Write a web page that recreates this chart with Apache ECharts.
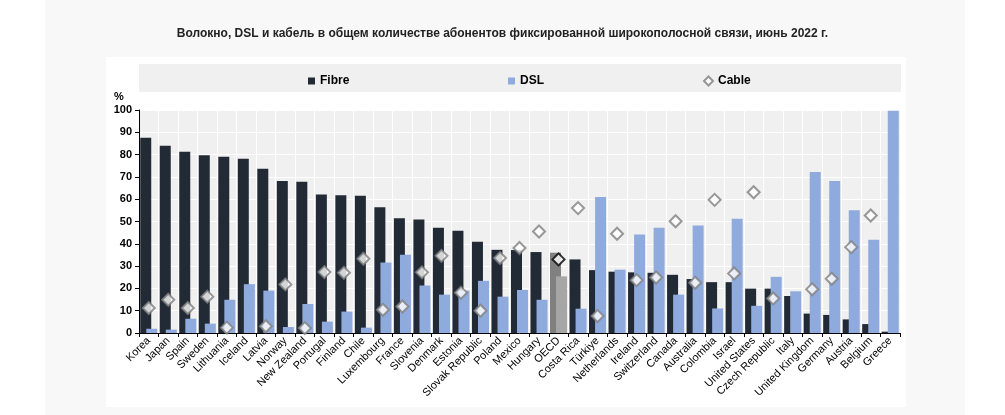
<!DOCTYPE html>
<html>
<head>
<meta charset="utf-8">
<script src="https://cdn.jsdelivr.net/npm/echarts@6/dist/echarts.min.js"></script>
<style>
  html, body { margin: 0; padding: 0; background: #ffffff; }
  #bg { position: absolute; left: 45px; top: 0; width: 920px; height: 415px; background: #f8f8f8; }
  #panel { position: absolute; left: 106px; top: 57px; width: 800px; height: 350px; background: #ffffff; }
  #chart { position: absolute; left: 0; top: 0; width: 1005px; height: 415px; }
</style>
</head>
<body>
<div id="bg"></div>
<div id="panel"></div>
<div id="chart"></div>
<script>
const titleText = 'Волокно, DSL и кабель в общем количестве абонентов фиксированной широкополосной связи, июнь 2022 г.';
const categories = ['Korea','Japan','Spain','Sweden','Lithuania','Iceland','Latvia','Norway','New Zealand','Portugal','Finland','Chile','Luxembourg','France','Slovenia','Denmark','Estonia','Slovak Republic','Poland','Mexico','Hungary','OECD','Costa Rica','Türkiye','Netherlands','Ireland','Switzerland','Canada','Australia','Colombia','Israel','United States','Czech Republic','Italy','United Kingdom','Germany','Austria','Belgium','Greece'];
const fibre = [87.6,84.0,81.3,79.7,79.0,78.1,73.7,68.2,67.8,62.1,61.8,61.5,56.4,51.5,50.9,47.2,45.8,40.9,37.3,37.2,36.3,36.0,33.0,28.2,27.5,27.2,27.0,26.1,24.2,22.8,22.8,19.9,19.9,16.6,8.7,8.1,6.1,4.0,0.6];
const dsl = [1.9,1.5,6.4,4.2,14.9,21.9,19.0,2.7,13.0,5.1,9.6,2.4,31.6,35.1,21.3,17.2,19.0,23.4,16.3,19.3,14.9,25.4,10.9,61.0,28.4,44.2,47.2,17.2,48.2,11.0,51.2,12.2,25.2,18.7,72.2,68.2,55.1,41.8,99.7];
const cable = [11.2,14.9,11.2,16.3,2.4,null,3.0,21.8,2.2,27.3,27.0,33.3,10.4,11.9,27.2,34.6,18.1,10.0,33.6,38.1,45.5,33.0,56.0,7.6,44.5,23.7,24.9,50.1,22.5,59.7,26.7,63.1,15.5,null,19.6,24.3,38.5,52.7,null];
const yTicks = { min: 0, max: 100, interval: 10 };

const highlight = 'OECD';
const fibreData = fibre.map((v, i) => categories[i] === highlight ? { value: v, itemStyle: { color: '#808080' } } : v);
const dslData = dsl.map((v, i) => categories[i] === highlight ? { value: v, itemStyle: { color: '#a6a6a6' } } : v);
const cableData = cable.map((v, i) => categories[i] === highlight ? { value: v, itemStyle: { borderColor: '#000000' } } : v);

const FONT = 'Liberation Sans Narrow, Liberation Sans, Arial, sans-serif';
const chart = echarts.init(document.getElementById('chart'), null, { renderer: 'canvas' });
const legendText = { fontFamily: FONT, fontWeight: 'bold', fontSize: 12, color: '#000' };
chart.setOption({
  backgroundColor: 'transparent',
  animation: false,
  title: {
    text: titleText, left: 'center', top: 23,
    textStyle: { fontFamily: FONT, fontWeight: 'bold', fontSize: 12, color: '#222' }
  },
  graphic: [
    { type: 'rect', z: -10, silent: true, shape: { x: 139, y: 64, width: 762, height: 28 }, style: { fill: '#f0f0f0' } },
    { type: 'text', z: 10, silent: true, style: { x: 114, y: 91, text: '%', fontFamily: FONT, fontWeight: 'bold', fontSize: 11, fill: '#000' } }
  ],
  legend: [
    { data: ['Fibre'], left: 303, top: 70, icon: 'rect', itemWidth: 7, itemHeight: 7, itemGap: 0, textStyle: legendText },
    { data: ['DSL'], left: 503, top: 70, icon: 'rect', itemWidth: 7, itemHeight: 7, textStyle: legendText },
    { data: ['Cable'], left: 698, top: 70, icon: 'diamond', itemWidth: 9, itemHeight: 9, textStyle: legendText }
  ],
  grid: {
    left: 139, right: 105, top: 110, bottom: 82,
    show: true, backgroundColor: '#f0f0f0', borderWidth: 0
  },
  xAxis: {
    type: 'category', data: categories,
    axisLine: { show: true, lineStyle: { color: '#000', width: 1 } },
    axisTick: { show: true, alignWithLabel: false, length: 4, lineStyle: { color: '#000' } },
    splitLine: { show: true, lineStyle: { color: '#ffffff', width: 1 } },
    axisLabel: { interval: 0, rotate: 45, margin: 6, fontFamily: 'Liberation Sans, Arial, sans-serif', fontSize: 11, color: '#000' }
  },
  yAxis: {
    type: 'value', min: yTicks.min, max: yTicks.max, interval: yTicks.interval,
    axisLine: { show: true, lineStyle: { color: '#000' } },
    axisTick: { show: true, length: 4, lineStyle: { color: '#000' } },
    splitLine: { show: true, lineStyle: { color: '#ffffff', width: 1 } },
    axisLabel: { margin: 7, fontFamily: FONT, fontWeight: 'bold', fontSize: 11, color: '#000' }
  },
  series: [
    { name: 'Fibre', type: 'bar', data: fibreData, barWidth: 11, barGap: '-45%',
      itemStyle: { color: '#222a35' }, z: 2 },
    { name: 'DSL', type: 'bar', data: dslData, barWidth: 11,
      itemStyle: { color: '#8faadc' }, z: 3 },
    { name: 'Cable', type: 'scatter', data: cableData, symbol: 'diamond', symbolSize: 12,
      itemStyle: { color: '#ffffff', borderColor: '#808080', borderWidth: 2 }, z: 5 }
  ]
});
</script>
</body>
</html>
